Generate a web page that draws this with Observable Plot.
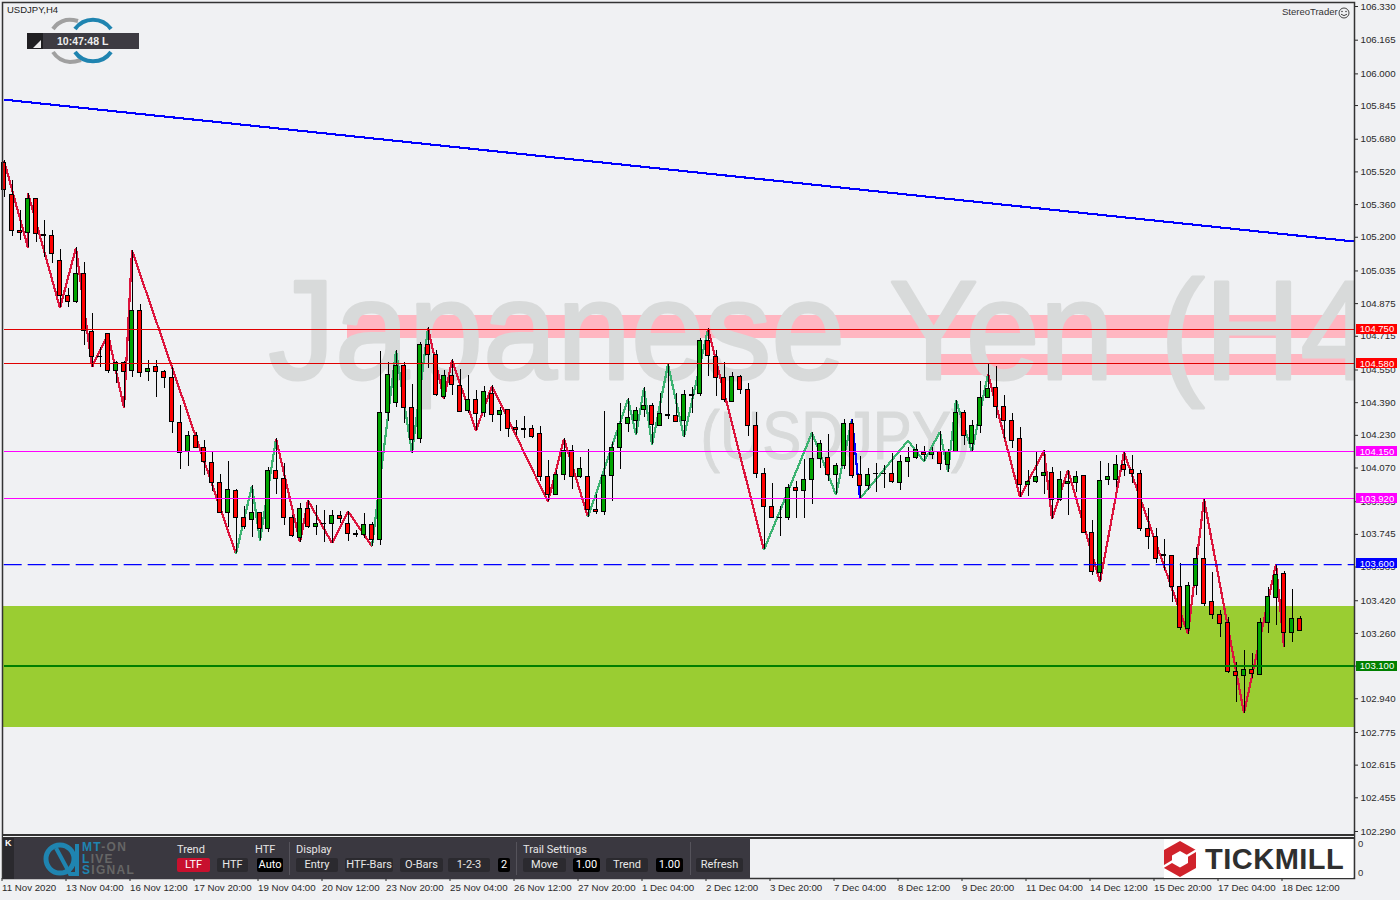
<!DOCTYPE html>
<html>
<head>
<meta charset="utf-8">
<script src="https://cdn.jsdelivr.net/npm/d3@7"></script>
<script src="https://cdn.jsdelivr.net/npm/@observablehq/plot@0.6"></script>
<style>
html,body{margin:0;padding:0;background:#f0f1f3;}
#stage{position:relative;width:1400px;height:900px;overflow:hidden;font-family:"Liberation Sans",sans-serif;color:#333;}
#stage svg.plot{position:absolute;left:0;top:0;}
.ov{position:absolute;white-space:nowrap;}
.lbl{color:#e6e6e6;font:11px Roboto,sans-serif;line-height:12px;}
.btn{background:#2b2a2f;color:#e8e8e8;font:11px Roboto,sans-serif;line-height:14px;height:14px;text-align:center;border-radius:2px;top:858px;}
.blk{background:#000;color:#fff;}
.sep{background:#55535b;width:1px;top:842px;height:33px;}
</style>
</head>
<body>
<div id="stage"></div>
<script>
const highs=[105.576,105.478,105.331,105.416,105.388,105.282,105.233,105.140,104.947,105.148,105.076,104.825,104.658,104.727,104.593,104.593,105.135,104.870,104.596,104.596,104.547,104.564,104.376,104.248,104.245,104.204,104.147,104.038,104.102,103.963,103.881,103.982,103.850,104.074,104.213,104.090,103.837,103.894,103.911,103.886,103.862,103.862,103.857,103.858,103.764,103.845,103.801,
104.639,104.588,104.645,104.588,104.479,104.686,104.756,104.645,104.547,104.599,104.550,104.523,104.449,104.469,104.472,104.368,104.356,104.302,104.322,104.278,104.273,104.106,104.057,104.213,104.180,104.121,104.159,103.940,104.346,104.193,104.386,104.408,104.368,104.462,104.387,104.433,104.577,104.433,104.449,104.462,104.702,104.751,104.645,104.585,104.536,104.521,104.482,104.342,104.066,
103.992,103.881,103.987,104.004,104.114,104.243,104.204,104.234,104.090,104.310,104.310,104.124,104.070,104.090,104.080,104.139,104.131,104.172,104.183,104.175,104.172,104.247,104.159,104.403,104.353,104.305,104.496,104.580,104.567,104.423,104.335,104.266,
104.057,104.147,104.155,104.072,104.055,104.060,104.055,104.031,103.812,104.100,104.091,104.131,104.147,104.131,104.060,103.874,103.776,103.719,103.644,103.600,103.507,103.683,103.918,103.556,103.370,103.336,103.120,103.176,103.164,103.331,103.483,103.595,103.561,103.473,103.345];
const lows=[105.393,105.203,105.184,105.148,105.176,105.099,105.070,104.854,104.857,104.877,104.670,104.564,104.564,104.531,104.482,104.364,104.515,104.515,104.495,104.417,104.461,104.237,104.064,104.079,104.164,104.035,103.956,103.845,103.780,103.649,103.767,103.731,103.715,103.756,103.940,103.788,103.731,103.707,103.772,103.739,103.707,103.702,103.800,103.711,103.728,103.723,103.687,
103.690,104.299,104.368,104.286,104.142,104.191,104.559,104.420,104.407,104.425,104.345,104.338,104.253,104.319,104.294,104.250,104.221,104.229,104.216,104.216,104.002,103.904,103.933,104.009,103.966,104.017,103.829,103.844,103.836,103.907,104.064,104.245,104.232,104.319,104.183,104.276,104.309,104.291,104.221,104.338,104.421,104.519,104.421,104.392,104.394,104.428,104.224,104.020,103.669,
103.826,103.736,103.814,103.824,103.821,103.892,104.069,104.005,103.938,104.065,104.017,103.920,103.959,103.951,103.971,103.994,103.959,104.025,104.110,104.103,104.114,104.057,104.049,104.149,104.178,104.149,104.237,104.413,104.314,104.212,104.165,103.927,
103.931,103.995,103.941,103.820,103.907,103.838,103.951,103.747,103.546,103.512,103.984,103.976,104.028,103.992,103.760,103.672,103.603,103.567,103.412,103.274,103.257,103.445,103.393,103.329,103.241,103.063,102.923,102.869,103.037,103.056,103.261,103.298,103.192,103.215,103.272];
const bodyTop=[105.562,105.407,105.231,105.388,105.388,105.212,105.207,105.084,104.913,105.021,105.021,104.737,104.616,104.727,104.585,104.585,104.839,104.839,104.555,104.565,104.541,104.511,104.291,104.227,104.227,104.168,104.095,103.997,103.963,103.958,103.826,103.850,103.850,104.056,104.056,104.017,103.826,103.870,103.870,103.796,103.798,103.836,103.836,103.796,103.747,103.791,103.791,
104.340,104.526,104.570,104.570,104.364,104.673,104.673,104.624,104.521,104.521,104.472,104.404,104.404,104.443,104.433,104.350,104.355,104.266,104.262,104.262,104.237,104.026,104.036,104.154,104.154,104.066,104.026,103.865,104.031,104.169,104.286,104.315,104.350,104.374,104.374,104.335,104.330,104.325,104.428,104.428,104.692,104.692,104.614,104.511,104.516,104.516,104.453,104.276,104.041,
103.879,103.827,103.973,103.973,104.012,104.114,104.188,104.119,104.080,104.286,104.286,104.036,104.036,104.043,104.043,104.041,104.100,104.119,104.159,104.144,104.149,104.149,104.149,104.340,104.340,104.276,104.413,104.457,104.462,104.369,104.301,104.212,
104.002,104.024,104.046,104.046,104.011,104.002,104.026,104.031,103.752,104.007,104.026,104.085,104.085,104.060,104.041,103.771,103.732,103.644,103.639,103.487,103.492,103.625,103.625,103.414,103.350,103.311,103.071,103.081,103.081,103.311,103.438,103.546,103.551,103.331,103.331];
const bodyBottom=[105.429,105.231,105.220,105.220,105.216,105.205,105.117,104.911,104.882,104.882,104.741,104.614,104.612,104.546,104.546,104.541,104.546,104.536,104.541,104.541,104.511,104.296,104.144,104.150,104.168,104.100,103.997,103.850,103.850,103.826,103.782,103.816,103.772,103.772,104.017,103.826,103.738,103.728,103.780,103.782,103.795,103.796,103.821,103.747,103.742,103.742,103.718,
103.718,104.340,104.389,104.364,104.208,104.213,104.624,104.426,104.417,104.477,104.345,104.350,104.335,104.340,104.330,104.330,104.262,104.257,104.258,104.222,104.026,103.938,103.938,104.036,104.026,104.026,103.865,103.853,103.855,104.031,104.169,104.286,104.301,104.355,104.281,104.276,104.325,104.296,104.301,104.425,104.433,104.619,104.511,104.404,104.394,104.453,104.276,104.041,103.880,
103.826,103.824,103.826,103.958,103.958,104.012,104.114,104.036,104.036,104.080,104.031,103.982,103.982,104.039,104.039,104.002,103.997,104.100,104.119,104.134,104.134,104.090,104.085,104.149,104.227,104.188,104.276,104.413,104.369,104.301,104.203,103.987,
103.987,104.002,104.031,103.913,103.913,103.992,103.997,103.752,103.561,103.556,104.011,104.011,104.060,104.041,103.771,103.732,103.625,103.639,103.487,103.287,103.282,103.492,103.404,103.350,103.306,103.071,103.052,103.052,103.061,103.056,103.311,103.434,103.262,103.262,103.272];
const upBars=[3,9,14,16,18,23,28,31,33,37,39,41,45,47,48,49,52,55,58,60,62,69,70,72,75,76,77,78,79,80,82,85,87,91,98,100,101,102,104,105,108,112,113,114,116,118,119,121,122,123,128,129,130,132,133,134,137,138,139,148,149,155,157,158,159,161];

const zzBar=[0,3,3,7,9,11,13,15,16,29,31,32,34,37,38,41,43,46,49,51,53,55,56,59,61,68,70,73,78,79,80,81,83,85,88,95,101,104,106,107,113,115,117,118,119,121,123,127,130,131,133,137,140,148,150,155,159,160];
const zzPrice=[105.576,105.148,105.416,104.854,105.148,104.564,104.727,104.364,105.135,103.649,103.982,103.715,104.213,103.707,103.911,103.702,103.858,103.687,104.645,104.142,104.756,104.407,104.599,104.253,104.472,103.904,104.213,103.829,104.408,104.232,104.462,104.183,104.577,104.221,104.751,103.669,104.243,103.938,104.310,103.920,104.204,104.103,104.247,104.049,104.403,104.149,104.531,103.927,104.155,103.820,104.060,103.512,104.147,103.257,103.918,102.869,103.600,103.192];
const zzTrend=["down","down","down","down","down","down","down","down","down","up","up","up","down","down","down","down","down","up","up","up","down","down","down","down","down","down","down","up","up","up","up","up","up","up","down","up","up","up","flat","up","up","up","up","up","up","up","down","down","down","down","down","down","down","down","down","down","down"];

const trendBars=[-0.04,168.8];
const trendPrices=[105.874,105.179];

const levelPrices=[104.75,104.58,104.15,103.92,103.6,103.1];
const levelKinds=["resist","resist","pivot","pivot","mid","support"];

const pinkStartBars=[42.96,116.2];
const pinkTops=[104.816,104.625];
const pinkBottoms=[104.706,104.523];
const greenZoneTop=103.391, greenZoneBottom=102.799;
const chartEndBar=168.8, chartStartBar=-0.04;

const priceTicks=[106.33,106.165,106,105.845,105.68,105.52,105.36,105.2,105.035,104.875,104.715,104.55,104.39,104.23,104.07,103.905,103.745,103.585,103.42,103.26,103.1,102.94,102.775,102.615,102.455,102.29];
const timeLabels=["11 Nov 2020","13 Nov 04:00","16 Nov 12:00","17 Nov 20:00","19 Nov 04:00","20 Nov 12:00","23 Nov 20:00","25 Nov 04:00","26 Nov 12:00","27 Nov 20:00","1 Dec 04:00","2 Dec 12:00","3 Dec 20:00","7 Dec 04:00","8 Dec 12:00","9 Dec 20:00","11 Dec 04:00","14 Dec 12:00","15 Dec 20:00","17 Dec 04:00","18 Dec 12:00"];
const timeTickBars=timeLabels.map((_,i)=>i*8);
const watermarkTitle="Japanese Yen (H4";
const watermarkPair="(USDJPY)";

const upSet=new Set(upBars);
const candles=highs.map((h,i)=>({i,h,l:lows[i],t:bodyTop[i],b:bodyBottom[i],up:upSet.has(i)}));
const segs=d3.pairs(zzBar.map((b,i)=>({b,p:zzPrice[i],k:zzTrend[i-1]}))).map(([a,c])=>({x1:a.b,y1:a.p,x2:c.b,y2:c.p,k:c.k}));
const trendColour={down:"#dc143c",up:"#3cb371",flat:"#0000ff"};
const levelColour={resist:"#e00000",pivot:"#ff00ff",mid:"#0000ff",support:"#008000"};
const tagColour={resist:"#ff0000",pivot:"#ff00ff",mid:"#0000ff",support:"#008000"};
const levels=levelPrices.map((p,i)=>({p,k:levelKinds[i]}));
const tagX1=169.06,tagX2=174.19,tagHalf=0.0245;
const crisp={shapeRendering:"crispEdges"};

const chart=Plot.plot({
  width:1400,height:900,marginTop:2,marginLeft:2,marginRight:46,marginBottom:22,
  x:{domain:[0,160],range:[3.5,1283.5]},
  y:{domain:[102.29,106.33],range:[831,6]},
  style:{background:"transparent",fontFamily:"'Liberation Sans',sans-serif",fontSize:"9.7px",color:"#2a2a2a",overflow:"visible"},
  marks:[
    Plot.rect(pinkStartBars.map((s,i)=>({s,t:pinkTops[i],b:pinkBottoms[i]})),{x1:"s",x2:()=>chartEndBar,y1:"b",y2:"t",fill:"#ffb6c1",...crisp}),
    Plot.rect([{}],{x1:()=>chartStartBar,x2:()=>chartEndBar,y1:()=>greenZoneBottom,y2:()=>greenZoneTop,fill:"#9acd32",...crisp}),
    Plot.text([watermarkTitle],{x:()=>33.06,y:()=>104.508,text:d=>d,textAnchor:"start",lineAnchor:"bottom",fill:"#d8dada",stroke:"#d8dada",strokeWidth:3,fontSize:141,fontFamily:"'Liberation Sans',sans-serif",clip:true}),
    Plot.text([watermarkPair],{x:()=>87.06,y:()=>104.116,text:d=>d,textAnchor:"start",lineAnchor:"bottom",fill:"#d8dada",stroke:"#d8dada",strokeWidth:1,fontSize:68,fontFamily:"'Liberation Sans',sans-serif"}),
    Plot.link(segs,{x1:"x1",y1:"y1",x2:"x2",y2:"y2",stroke:d=>trendColour[d.k],strokeWidth:2.2,...crisp}),
    Plot.link([{}],{x1:()=>trendBars[0],x2:()=>trendBars[1],y1:()=>trendPrices[0],y2:()=>trendPrices[1],stroke:"#0000ff",strokeWidth:2.1,...crisp}),
    Plot.ruleX(candles,{x:"i",y1:"l",y2:"h",stroke:"#000",strokeWidth:1,...crisp}),
    Plot.rect(candles,{x1:d=>d.i-0.25,x2:d=>d.i+0.25,y1:"b",y2:"t",fill:d=>d.up?"#00a400":"#ff0000",stroke:"#000",strokeWidth:1,...crisp}),
    Plot.link(levels.filter(d=>d.k!=="mid"),{x1:()=>chartStartBar,x2:()=>chartEndBar,y1:"p",y2:"p",stroke:d=>levelColour[d.k],strokeWidth:d=>d.k==="support"?2:1,...crisp}),
    Plot.link(levels.filter(d=>d.k==="mid"),{x1:()=>chartStartBar,x2:()=>chartEndBar,y1:"p",y2:"p",stroke:"#0000ff",strokeWidth:1.3,strokeDasharray:"18,6",dy:0.6}),
    Plot.axisY({anchor:"right",ticks:priceTicks,tickFormat:d3.format(".3f"),tickSize:3,tickPadding:3,label:null}),
    Plot.axisX({anchor:"bottom",ticks:timeTickBars,tickFormat:d=>timeLabels[d/8],tickSize:3,tickPadding:3,textAnchor:"start",dx:-2,label:null}),
    Plot.frame({stroke:"#333",strokeWidth:1.5}),
    Plot.rect(levels,{x1:()=>tagX1,x2:()=>tagX2,y1:d=>d.p-tagHalf,y2:d=>d.p+tagHalf,fill:d=>tagColour[d.k],...crisp}),
    Plot.text(levels,{x:()=>(tagX1+tagX2)/2,y:"p",text:d=>d3.format(".3f")(d.p),fill:"#fff",fontSize:9.5})
  ]
});
d3.select(chart).selectAll("text").each(function(){
  if(this.textContent===watermarkTitle){
    this.style.wordSpacing="10px";
    this.setAttribute("textLength",1106);
    this.setAttribute("lengthAdjust","spacingAndGlyphs");
  } else if(this.textContent===watermarkPair){
    this.setAttribute("textLength",270);
    this.setAttribute("lengthAdjust","spacingAndGlyphs");
  }
});
const stage=document.getElementById("stage");
stage.appendChild(chart);

const overlay=`
<div class="ov" style="left:3px;top:834px;width:1351px;height:1.5px;background:#333;"></div>
<div class="ov" style="left:3px;top:835.5px;width:1351px;height:1.5px;background:#f0f1f3;"></div>
<div class="ov" style="left:3px;top:837px;width:1351px;height:1.5px;background:#333;"></div>
<div class="ov" style="left:3px;top:838px;width:747px;height:41px;background:#3a3840;"></div>
<div class="ov" style="left:3px;top:838px;width:11px;height:41px;background:#2a292e;"></div>
<div class="ov" style="left:5px;top:838px;color:#fff;font:bold 9px 'Liberation Sans';">K</div>
<svg class="ov" style="left:40px;top:840px;" width="44" height="38" viewBox="0 0 44 38">
  <circle cx="20" cy="19" r="14" fill="none" stroke="#1f84b0" stroke-width="5"/>
  <path d="M16 8 L30 34 L37 34 L37 4" fill="none" stroke="#1f84b0" stroke-width="4"/>
</svg>
<div class="ov" style="left:82px;top:842px;font:bold 12px/11.5px 'Liberation Sans';letter-spacing:1.3px;color:#666;"><span style="color:#1f84b0">MT</span>-ON<br><span style="color:#1f84b0">L</span>IVE<br><span style="color:#1f84b0">S</span>IGNAL</div>
<div class="ov lbl" style="left:177px;top:844px;">Trend</div>
<div class="ov lbl" style="left:255px;top:844px;">HTF</div>
<div class="ov lbl" style="left:296px;top:844px;">Display</div>
<div class="ov lbl" style="left:523px;top:844px;">Trail Settings</div>
<div class="ov sep" style="left:289px;"></div><div class="ov sep" style="left:516px;"></div><div class="ov sep" style="left:690px;"></div>
<div class="ov btn" style="left:177px;width:33px;background:#c8102e;color:#fff;">LTF</div>
<div class="ov btn" style="left:217px;width:31px;">HTF</div>
<div class="ov btn blk" style="left:257px;width:26px;">Auto</div>
<div class="ov btn" style="left:296px;width:42px;">Entry</div>
<div class="ov btn" style="left:345px;width:48px;">HTF-Bars</div>
<div class="ov btn" style="left:400px;width:43px;">O-Bars</div>
<div class="ov btn" style="left:448px;width:42px;">1-2-3</div>
<div class="ov btn blk" style="left:498px;width:12px;">2</div>
<div class="ov btn" style="left:523px;width:43px;">Move</div>
<div class="ov btn blk" style="left:573px;width:27px;">1.00</div>
<div class="ov btn" style="left:606px;width:42px;">Trend</div>
<div class="ov btn blk" style="left:656px;width:27px;">1.00</div>
<div class="ov btn" style="left:696px;width:47px;">Refresh</div>
<div class="ov" style="left:1164px;top:839px;width:189px;height:39px;background:#fff;"></div>
<svg class="ov" style="left:1162px;top:840px;" width="38" height="38" viewBox="0 0 38 38">
  <path d="M18 1 L34 10 L34 28 L18 37 L2 28 L2 10 Z M18 11 L10 15.5 L10 23 L18 27.5 L26 23 L26 15.5 Z" fill="#d0232b" fill-rule="evenodd"/>
  <path d="M1 27 L11 21 M25 16 L35 10" stroke="#fff" stroke-width="2.5"/>
</svg>
<div class="ov" style="left:1205px;top:842px;font:bold 29px/34px 'Liberation Sans';letter-spacing:0.5px;color:#2f2f2f;">TICKMILL</div>
<div class="ov" style="left:1358px;top:838px;font:9.5px 'Liberation Sans';">0</div>
<div class="ov" style="left:1358px;top:867px;font:9.5px 'Liberation Sans';">0</div>
<div class="ov" style="left:7px;top:4px;font:9.5px 'Liberation Sans';color:#222;">USDJPY,H4</div>
<svg class="ov" style="left:0;top:0;" width="140" height="70" viewBox="0 0 140 70" fill="none" stroke-width="4">
  <path d="M53 29 A22 22 0 0 1 66 20 Q71 19 78 21" stroke="#a0a0a0"/>
  <path d="M53 52 A22 22 0 0 0 70 62 Q75 62 81 60" stroke="#a0a0a0"/>
  <path d="M75 29 A22 22 0 0 1 111 29" stroke="#1f84b0"/>
  <path d="M75 52 A22 22 0 0 0 111 52" stroke="#1f84b0"/>
</svg>
<div class="ov" style="left:27px;top:33px;width:112px;height:16px;background:#3d3b42;"></div>
<div class="ov" style="left:27px;top:33px;width:16px;height:16px;background:#201f22;"></div>
<svg class="ov" style="left:33px;top:40px;" width="9" height="8" viewBox="0 0 9 8"><path d="M0 8 L8 8 L8 0 Z" fill="#eee"/></svg>
<div class="ov" style="left:57px;top:35px;font:bold 10.5px/12px 'Liberation Sans';color:#eee;">10:47:48 L</div>
<div class="ov" style="left:1282px;top:6px;font:9.5px 'Liberation Sans';color:#333;">StereoTrader</div>
<svg class="ov" style="left:1338px;top:7px;" width="12" height="12" viewBox="0 0 12 12">
  <circle cx="6" cy="6" r="5" fill="none" stroke="#444" stroke-width="1"/><circle cx="4" cy="4.5" r=".8" fill="#444"/><circle cx="8" cy="4.5" r=".8" fill="#444"/><path d="M3 7.2 Q6 10 9 7.2" fill="none" stroke="#444"/>
</svg>`;
stage.insertAdjacentHTML("beforeend",overlay);
</script>
</body>
</html>
